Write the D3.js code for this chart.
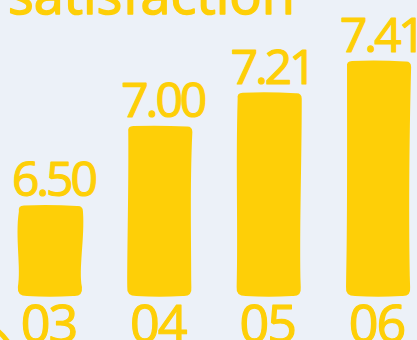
<!DOCTYPE html>
<html>
<head>
<meta charset="utf-8">
<script src="https://cdn.jsdelivr.net/npm/d3@7"></script>
<style>
  html, body { margin: 0; padding: 0; background: #ecf1f8; overflow: hidden; }
  svg { display: block; }
</style>
</head>
<body>
<svg id="chart" width="417" height="340"></svg>
<script>
// ---- data ----
const title = "satisfaction";
const categories = ["03", "04", "05", "06"];
const values = [6.50, 7.00, 7.21, 7.41];
const valueLabels = ["6.50", "7.00", "7.21", "7.41"];

// ---- style ----
const yellow = "#fecf07";
const bg = "#ecf1f8";
const W = 417, H = 340;

const svg = d3.select("#chart");
svg.append("rect").attr("width", W).attr("height", H).attr("fill", bg);

const x = d3.scaleBand()
  .domain(categories)
  .range([-4, 433])
  .paddingInner(0.405)
  .paddingOuter(0.2);

const y = d3.scaleLinear()
  .domain([5.93, 7.41])
  .range([296, 61]);

// hand-drawn-ish bar path
const wob = [[3, 2.5], [-1.5, -1], [1, 0.5], [-1, 0.5]];
function barPath(x0, y0, w, h, i) {
  const r = 6, rb = 9;
  const x1 = x0 + w, y1 = y0 + h;
  const a = wob[i % wob.length];
  const p = d3.path();
  p.moveTo(x0 + r, y0);
  p.quadraticCurveTo(x0 + w / 2, y0 - 1, x1 - r, y0 + 0.5);
  p.quadraticCurveTo(x1, y0, x1, y0 + r);
  p.bezierCurveTo(x1 + a[0] - 1, y0 + h * 0.35, x1 - a[1] - 2, y0 + h * 0.7, x1 - 1, y1 - rb);
  p.quadraticCurveTo(x1, y1 + 1, x1 - rb - 1, y1);
  p.quadraticCurveTo(x0 + w / 2, y1 + 1.5, x0 + rb, y1);
  p.quadraticCurveTo(x0 - 1, y1, x0, y1 - rb);
  p.bezierCurveTo(x0 + a[1] + 1, y0 + h * 0.7, x0 - a[0], y0 + h * 0.35, x0 + 1, y0 + r);
  p.quadraticCurveTo(x0, y0, x0 + r, y0);
  p.closePath();
  return p.toString();
}

svg.append("g").selectAll("path.bar")
  .data(values)
  .join("path")
  .attr("class", "bar")
  .attr("fill", yellow)
  .attr("d", (d, i) => barPath(x(categories[i]), y(d), x.bandwidth(), y.range()[0] - y(d), i));

const font = "'Open Sans', 'Noto Sans', sans-serif";

// value labels
svg.append("g").selectAll("text.val")
  .data(values)
  .join("text")
  .attr("class", "val")
  .attr("x", (d, i) => x(categories[i]) + x.bandwidth() / 2 + 3)
  .attr("y", d => y(d) - 9)
  .attr("text-anchor", "middle")
  .attr("font-family", font)
  .attr("font-size", 48)
  .attr("letter-spacing", -3)
  .attr("fill", yellow)
  .attr("stroke", yellow)
  .attr("stroke-width", 1.2)
  .attr("stroke-linejoin", "round")
  .text((d, i) => valueLabels[i]);

// x axis labels
svg.append("g").selectAll("text.cat")
  .data(categories)
  .join("text")
  .attr("class", "cat")
  .attr("x", d => x(d) + x.bandwidth() / 2 - 2)
  .attr("y", 342)
  .attr("text-anchor", "middle")
  .attr("font-family", font)
  .attr("font-size", 52)
  .attr("letter-spacing", -2)
  .attr("fill", yellow)
  .attr("stroke", yellow)
  .attr("stroke-width", 1.2)
  .attr("stroke-linejoin", "round")
  .text(d => d);

// small decorative stroke at the bottom-left corner
svg.append("path")
  .attr("d", "M-2,331 Q3,335 8,342")
  .attr("fill", "none")
  .attr("stroke", yellow)
  .attr("stroke-width", 5)
  .attr("stroke-linecap", "round");

// title (mostly cut off at the top)
svg.append("text")
  .attr("x", 8)
  .attr("y", 14)
  .attr("font-family", font)
  .attr("font-size", 54)
  .attr("fill", yellow)
  .attr("stroke", yellow)
  .attr("stroke-width", 1.5)
  .attr("stroke-linejoin", "round")
  .text(title);
</script>
</body>
</html>
